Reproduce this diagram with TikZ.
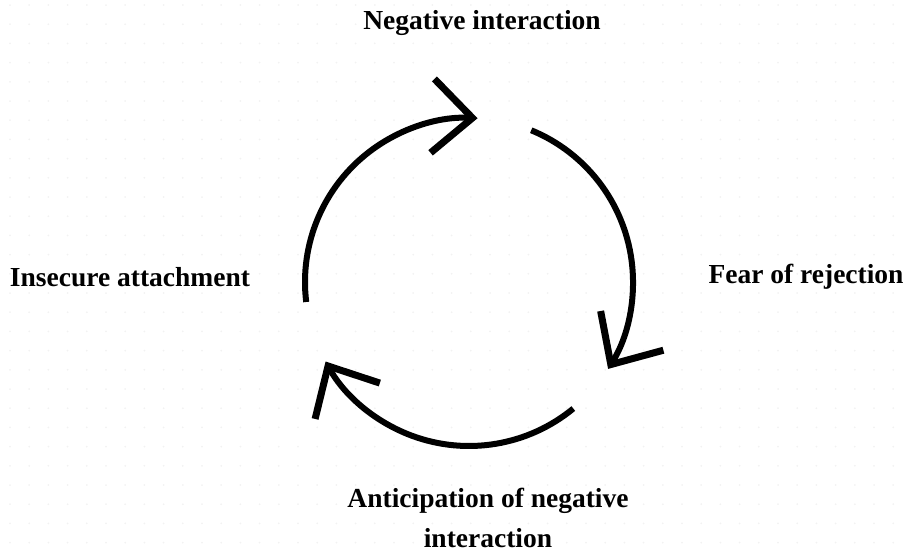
\documentclass[tikz,border=0pt]{standalone}
\usepackage{fontspec}
\setmainfont{Liberation Serif}
\usetikzlibrary{arrows.meta}
\tikzset{
  lbl/.style={font=\bfseries\fontsize{27.5}{40}\selectfont, align=center, inner sep=0pt},
  cyc/.style={line width=6pt, -{Straight Barb[length=40pt 0, width=74pt 0, line width=7pt]}},
  griddot/.style={fill=black!5, draw=none}
}
\begin{document}
\begin{tikzpicture}[x=1pt,y=1pt]
\useasboundingbox (0,0) rectangle (904,-552);
% faint dotted background
\foreach \i in {0,...,46} {
  \foreach \j in {0,...,28} {
    \fill[griddot] (10+\i*19.2, -5-\j*19.2) circle[radius=1];
  }
}
\coordinate (c) at (469,-282);
% labels
\node[lbl] (neg) at (482,-23) {Negative interaction};
\node[lbl] (fear) at (806,-277) {Fear of rejection};
\node[lbl] (ins) at (130,-277) {Insecure attachment};
\node[lbl] (ant) at (488,-518) {Anticipation of negative\\interaction};
% arc start points
\coordinate (s1) at ([shift={(187:164)}]c);
\coordinate (s2) at ([shift={(67.7:164)}]c);
\coordinate (s3) at ([shift={(-50.5:164)}]c);
% cycle arcs
\draw[cyc] (s1) arc[start angle=187, end angle=87, radius=164];
\draw[cyc] (s2) arc[start angle=67.7, end angle=-32, radius=164];
\draw[cyc] (s3) arc[start angle=-50.5, end angle=-151, radius=164];
\end{tikzpicture}
\end{document}
